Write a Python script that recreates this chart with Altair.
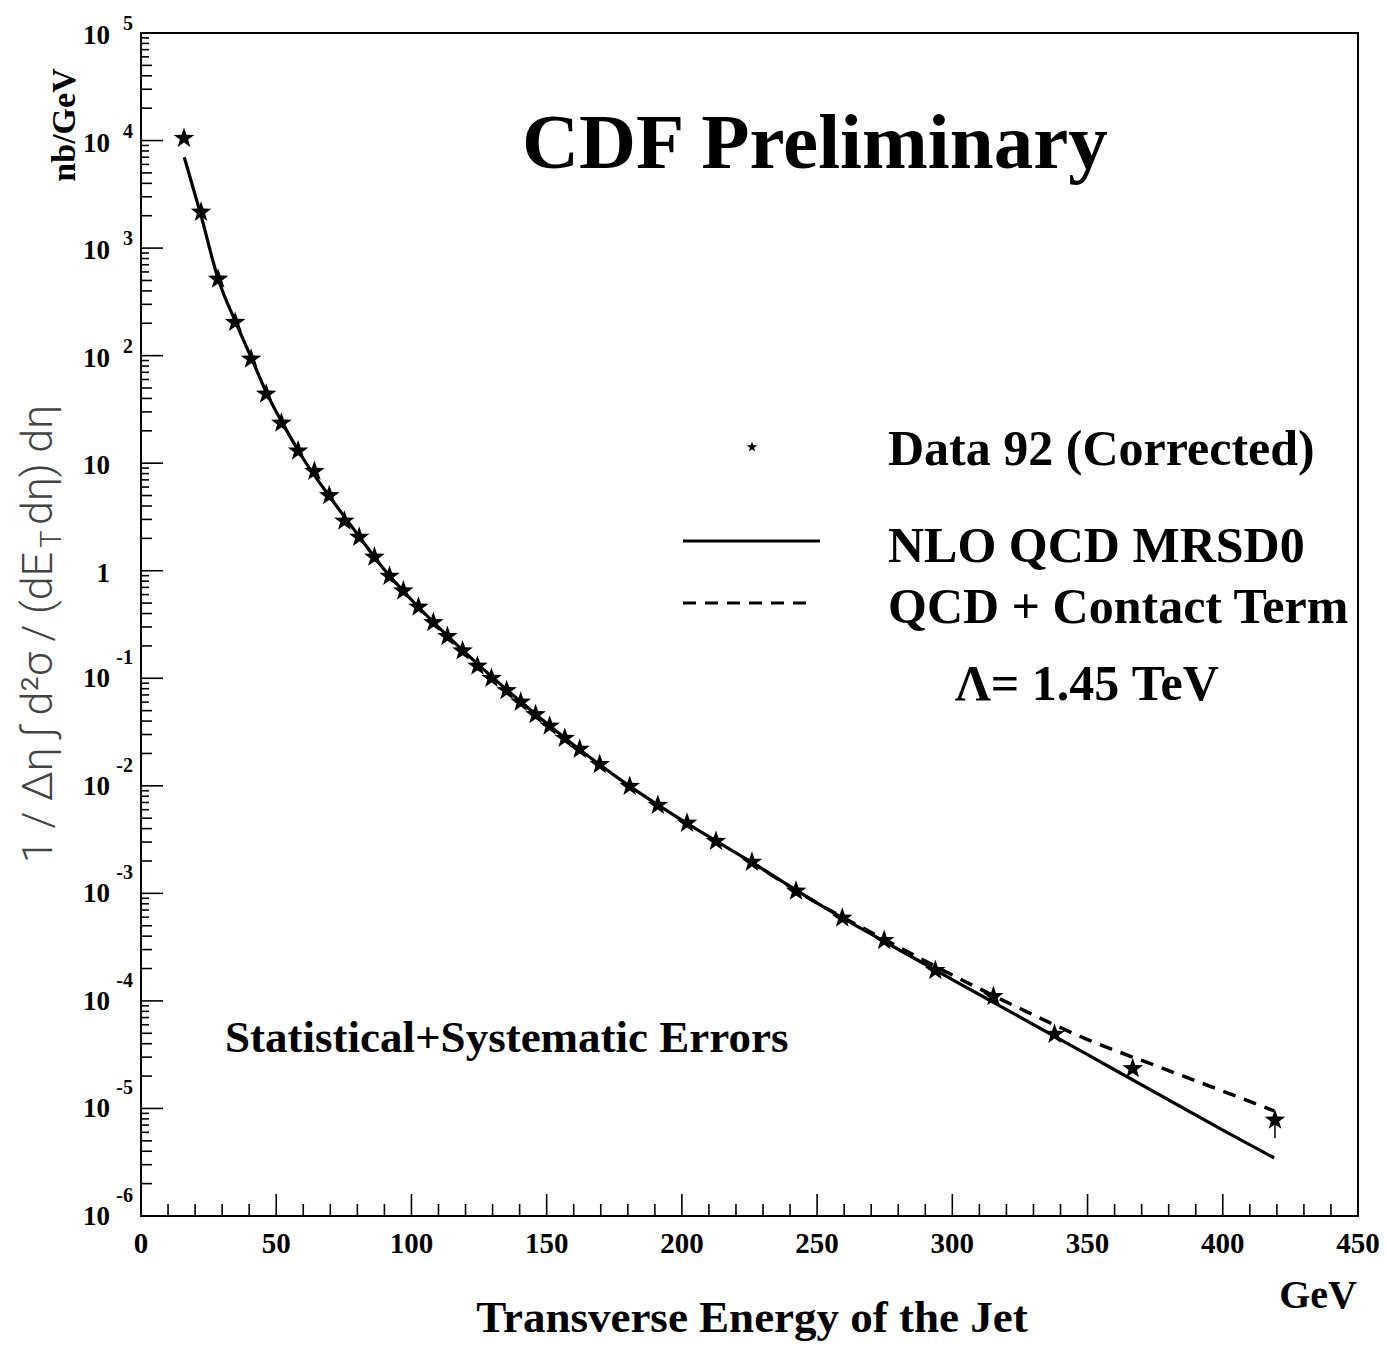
import altair as alt
import pandas as pd

# ---------------- data ----------------
et_data = [15.9, 22.2, 28.5, 34.8, 40.7, 46.3, 51.9, 58.1, 64.1, 69.6, 75.2, 80.7,
           86.3, 91.9, 97.0, 102.6, 108.1, 113.3, 118.9, 124.4, 129.6, 135.2, 140.4,
           145.9, 151.1, 156.7, 162.2, 169.6, 180.7, 191.1, 201.9, 212.6, 225.9,
           242.2, 259.3, 274.8, 293.7, 315.2, 337.8, 366.7, 419.3]
sigma_data = [1.05e4, 2.16e3, 515, 204, 93, 44, 23.6, 13.0, 8.4, 5.0, 2.9, 2.05,
              1.34, 0.89, 0.65, 0.46, 0.33, 0.245, 0.18, 0.13, 0.10, 0.077, 0.060,
              0.046, 0.036, 0.0277, 0.0219, 0.0158, 0.0099, 0.0066, 0.0045, 0.00305,
              0.00195, 0.00105, 5.9e-4, 3.65e-4, 1.92e-4, 1.1e-4, 4.9e-5, 2.35e-5, 7.8e-6]

et_nlo = [16, 22, 28.5, 35, 41, 47, 53, 60, 70, 80, 90, 100, 120, 140, 160, 180,
          200, 225, 250, 275, 300, 325, 350, 375, 400, 419]
sigma_nlo = [7.0e3, 2.1e3, 5.2e2, 2.05e2, 93, 42, 22, 11.0, 4.8, 2.19, 1.02, 0.537,
             0.172, 0.0617, 0.0240, 0.0102, 0.00479, 0.00200, 8.13e-4, 3.55e-4,
             1.58e-4, 7.08e-5, 3.16e-5, 1.41e-5, 6.3e-6, 3.47e-6]

et_contact = [225, 250, 275, 300, 325, 350, 375, 400, 419]
sigma_contact = [0.00200, 8.13e-4, 3.72e-4, 1.74e-4, 8.5e-5, 4.37e-5, 2.51e-5, 1.45e-5, 9.5e-6]

err_et = [419.3]
err_lo = [5.3e-6]
err_hi = [7.8e-6]

x_tick_labels = ["0", "50", "100", "150", "200", "250", "300", "350", "400", "450"]
x_tick_values = [0, 50, 100, 150, 200, 250, 300, 350, 400, 450]
x_major_ticks = [50, 100, 150, 200, 250, 300, 350, 400]
x_minor_ticks = [v for v in range(10, 450, 10) if v % 50 != 0]

y_pos_vals = [1e5, 1e4, 1e3, 1e2, 10, 1]
y_pos_base = ["10", "10", "10", "10", "10", "1"]
y_pos_exp = ["5", "4", "3", "2", "", ""]
y_neg_vals = [0.1, 0.01, 1e-3, 1e-4, 1e-5, 1e-6]
y_neg_base = ["10", "10", "10", "10", "10", "10"]
y_neg_exp = ["-1", "-2", "-3", "-4", "-5", "-6"]

y_major_ticks = [10.0 ** k for k in range(-5, 5)]
y_minor_a = [m * 10.0 ** k for k in range(-6, 5) for m in (2, 3, 4, 5)]
y_minor_b = [m * 10.0 ** k for k in range(-6, 5) for m in (6, 7, 8, 9)]

# ---------------- layout ----------------
W, H = 1217, 1183
SERIF = "Liberation Serif"
STAR = ("M0,-1L0.235,-0.324L0.951,-0.309L0.380,0.124L0.588,0.809L0,0.4"
        "L-0.588,0.809L-0.380,0.124L-0.951,-0.309L-0.235,-0.324Z")

xs = alt.Scale(domain=[0, 450], nice=False, zero=False)
ys = alt.Scale(type="log", domain=[1e-6, 1e5], nice=False)


def X(f):
    return alt.X(f, type="quantitative", scale=xs, axis=None)


def Y(f):
    return alt.Y(f, type="quantitative", scale=ys, axis=None)


df_data = pd.DataFrame({"et": et_data, "s": sigma_data})
df_nlo = pd.DataFrame({"et": et_nlo, "s": sigma_nlo})
df_ct = pd.DataFrame({"et": et_contact, "s": sigma_contact})
df_err = pd.DataFrame({"et": err_et, "lo": err_lo, "hi": err_hi})

contact = alt.Chart(df_ct).mark_line(
    color="black", strokeWidth=3.5, strokeDash=[13, 9], interpolate="monotone"
).encode(x=X("et"), y=Y("s"))
nlo = alt.Chart(df_nlo).mark_line(
    color="black", strokeWidth=3.2, interpolate="monotone"
).encode(x=X("et"), y=Y("s"))
stars = alt.Chart(df_data).mark_point(
    shape=STAR, filled=True, size=470, color="black", opacity=1
).encode(x=X("et"), y=Y("s"))
err = alt.Chart(df_err).mark_rule(color="black", strokeWidth=1.5).encode(
    x=X("et"), y=Y("lo"), y2="hi")

# ticks (inward)
xmaj = alt.Chart(pd.DataFrame({"v": x_major_ticks})).mark_rule(
    color="black", strokeWidth=1.6).encode(x=X("v"), y=alt.value(H), y2=alt.value(H - 22))
xmin = alt.Chart(pd.DataFrame({"v": x_minor_ticks})).mark_rule(
    color="black", strokeWidth=1.6).encode(x=X("v"), y=alt.value(H), y2=alt.value(H - 12))
ymaj = alt.Chart(pd.DataFrame({"v": y_major_ticks})).mark_rule(
    color="black", strokeWidth=1.6).encode(y=Y("v"), x=alt.value(0), x2=alt.value(22))
ymina = alt.Chart(pd.DataFrame({"v": y_minor_a})).mark_rule(
    color="black", strokeWidth=1.6).encode(y=Y("v"), x=alt.value(0), x2=alt.value(11))
yminb = alt.Chart(pd.DataFrame({"v": y_minor_b})).mark_rule(
    color="black", strokeWidth=1.6).encode(y=Y("v"), x=alt.value(0), x2=alt.value(8))

# tick labels
xlab = alt.Chart(pd.DataFrame({"v": x_tick_values, "t": x_tick_labels})).mark_text(
    font=SERIF, fontWeight="bold", fontSize=29, baseline="middle", align="center",
    color="black").encode(x=X("v"), y=alt.value(H + 28), text="t:N")

df_pos = pd.DataFrame({"v": y_pos_vals, "b": y_pos_base, "e": y_pos_exp})
df_neg = pd.DataFrame({"v": y_neg_vals, "b": y_neg_base, "e": y_neg_exp})
ypos_b = alt.Chart(df_pos).mark_text(
    font=SERIF, fontWeight="bold", fontSize=27, align="right", baseline="middle",
    dy=3, color="black").encode(y=Y("v"), x=alt.value(-31), text="b:N")
ypos_e = alt.Chart(df_pos).mark_text(
    font=SERIF, fontWeight="bold", fontSize=20, align="right", baseline="middle",
    dy=-9, color="black").encode(y=Y("v"), x=alt.value(-8), text="e:N")
yneg_b = alt.Chart(df_neg).mark_text(
    font=SERIF, fontWeight="bold", fontSize=27, align="right", baseline="middle",
    dy=1, color="black").encode(y=Y("v"), x=alt.value(-31), text="b:N")
yneg_e = alt.Chart(df_neg).mark_text(
    font=SERIF, fontWeight="bold", fontSize=20, align="right", baseline="middle",
    dy=-20, color="black").encode(y=Y("v"), x=alt.value(-8), text="e:N")


def label(text, x, y, size, align="left", baseline="alphabetic", angle=0,
          font=SERIF, weight="bold", color="black"):
    return alt.Chart(pd.DataFrame({"t": [text]})).mark_text(
        font=font, fontWeight=weight, fontSize=size, align=align,
        baseline=baseline, angle=angle, color=color
    ).encode(x=alt.value(x), y=alt.value(y), text="t:N")


texts = [
    label("CDF Preliminary", 381, 135, 79),
    label("Data 92 (Corrected)", 747, 432, 50),
    label("NLO QCD MRSD0", 747, 529, 50),
    label("QCD + Contact Term", 747, 590, 50),
    label("Λ= 1.45 TeV", 814, 667, 50),
    label("Statistical+Systematic Errors", 84, 1019, 45),
    label("Transverse Energy of the Jet", 611, 1299, 45, align="center"),
    label("GeV", 1216, 1275, 40, align="right"),
    label("nb/GeV", -76, 92, 34, align="center", baseline="middle", angle=270),
    label("1 / Δη ∫ d²σ / (dE", -89, 519, 43, align="right", angle=270,
          font="Roboto", weight=300, color="#444"),
    label("T", -80, 506, 29, align="center", angle=270,
          font="Roboto", weight=300, color="#444"),
    label("dη) dη", -89, 492, 43, align="left", angle=270,
          font="Roboto", weight=300, color="#444"),
]

one = pd.DataFrame({"a": [0]})
leg_star = alt.Chart(one).mark_point(
    shape=STAR, filled=True, size=120, color="black", opacity=1
).encode(x=alt.value(611), y=alt.value(414))
leg_solid = alt.Chart(one).mark_rule(color="black", strokeWidth=3).encode(
    x=alt.value(542), x2=alt.value(679), y=alt.value(508))
leg_dash = alt.Chart(one).mark_rule(color="black", strokeWidth=3, strokeDash=[13, 9]).encode(
    x=alt.value(542), x2=alt.value(673), y=alt.value(570))

chart = alt.layer(
    xmaj, xmin, ymaj, ymina, yminb,
    contact, nlo, err, stars,
    xlab, ypos_b, ypos_e, yneg_b, yneg_e,
    leg_star, leg_solid, leg_dash,
    *texts
).properties(
    width=W, height=H,
    padding={"left": 133, "top": 25, "right": 22, "bottom": 131},
    autosize=alt.AutoSizeParams(type="none"),
    background="white",
).configure_view(stroke="black", strokeWidth=2)

chart.save("out.html", embed_options={"renderer": "svg", "actions": False})
